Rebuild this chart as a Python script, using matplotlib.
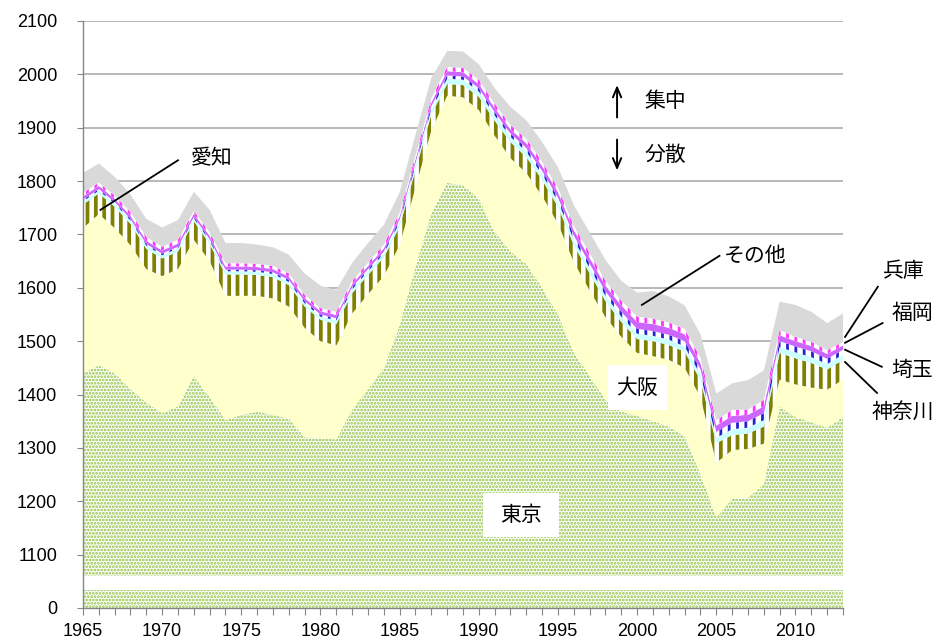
import matplotlib
matplotlib.use("Agg")
import matplotlib.pyplot as plt
from matplotlib.patches import Rectangle
import numpy as np

years = list(range(1965, 2014))

tokyo = [1440, 1455, 1440, 1410, 1385, 1365, 1378, 1435, 1395, 1352,
         1362, 1368, 1362, 1355, 1320, 1318, 1316, 1372, 1410, 1450,
         1530, 1640, 1740, 1797, 1792, 1768, 1705, 1668, 1645, 1600,
         1550, 1478, 1435, 1390, 1368, 1360, 1350, 1340, 1322, 1250,
         1170, 1205, 1207, 1232, 1377, 1358, 1348, 1338, 1358]
osaka = [272, 283, 272, 270, 250, 257, 257, 255, 255, 233,
         223, 217, 218, 210, 205, 182, 176, 180, 178, 172,
         150, 148, 155, 163, 165, 165, 180, 175, 170, 172,
         170, 170, 160, 155, 140, 118, 122, 125, 128, 145,
         102, 91, 91, 76, 51, 61, 65, 71, 70]
aichi = [44, 39, 40, 40, 38, 33, 33, 35, 32, 40,
         40, 39, 40, 40, 40, 40, 40, 38, 36, 35,
         35, 33, 30, 22, 23, 25, 28, 30, 30, 30,
         32, 32, 32, 30, 28, 26, 28, 28, 30, 32,
         37, 28, 29, 32, 50, 49, 46, 38, 37]
kanagawa = [6, 5, 6, 6, 6, 6, 6, 5, 6, 6,
            6, 6, 6, 6, 6, 6, 7, 7, 7, 7,
            8, 8, 9, 10, 10, 10, 10, 10, 10, 10,
            10, 10, 10, 10, 10, 10, 10, 10, 10, 10,
            10, 11, 11, 12, 11, 11, 11, 10, 10]
saitama = [3, 3, 3, 3, 3, 3, 3, 3, 3, 3,
           3, 3, 3, 4, 4, 4, 4, 4, 4, 4,
           5, 5, 6, 6, 6, 6, 6, 6, 7, 7,
           7, 8, 8, 8, 9, 9, 9, 9, 10, 10,
           11, 12, 12, 13, 11, 11, 11, 10, 9]
fukuoka = [6, 6, 6, 6, 6, 6, 6, 6, 6, 6,
           6, 6, 6, 6, 6, 6, 6, 6, 6, 6,
           6, 7, 7, 8, 8, 8, 8, 8, 9, 9,
           10, 10, 11, 11, 12, 13, 13, 13, 13, 12,
           12, 13, 12, 13, 11, 10, 10, 9, 8]
hyogo = [7, 6, 6, 7, 7, 7, 7, 5, 7, 6,
         6, 6, 6, 6, 6, 6, 6, 6, 6, 7,
         7, 7, 8, 8, 8, 8, 8, 8, 8, 8,
         8, 8, 9, 9, 9, 10, 10, 10, 10, 10,
         10, 11, 10, 12, 10, 8, 8, 7, 7]
other = [37, 36, 35, 33, 34, 36, 37, 36, 42, 38,
         38, 36, 35, 35, 40, 42, 41, 34, 37, 37,
         38, 39, 38, 30, 31, 29, 29, 34, 35, 37,
         39, 39, 39, 39, 37, 45, 52, 49, 44, 44,
         50, 50, 55, 55, 53, 60, 56, 51, 53]

y_ticks = [1000, 1100, 1200, 1300, 1400, 1500, 1600, 1700, 1800, 1900, 2000, 2100]
y_labels = ['0', '1100', '1200', '1300', '1400', '1500', '1600', '1700',
            '1800', '1900', '2000', '2100']

# (values, facecolor, hatch, hatch colour, hatch width)
layers = [
    (tokyo, 'white', '.....', '#8FC23E', 1.3),
    (osaka, '#FFFFCC', None, None, 0),
    (aichi, 'white', '||', '#808000', 2.7),
    (kanagawa, '#CCFFFF', None, None, 0),
    (saitama, 'white', '||', '#2222CC', 2.0),
    (fukuoka, '#CC66FF', None, None, 0),
    (hyogo, 'white', '||', '#FF33FF', 2.0),
    (other, '#D9D9D9', None, None, 0),
]

jp = ['Noto Sans CJK JP', 'DejaVu Sans']

fig = plt.figure(figsize=(9.44, 6.42), dpi=100)
ax = fig.add_axes([83 / 944, 34 / 642, 760 / 944, 587 / 642])

x = np.array(years)
base = np.zeros(len(years))
for vals, fc, hatch, hc, hlw in layers:
    top = base + np.array(vals)
    if hatch:
        plt.rcParams['hatch.linewidth'] = hlw
        poly = ax.fill_between(x, base, top, facecolor=fc, edgecolor=hc,
                               hatch=hatch, linewidth=0, zorder=2)
        if hasattr(poly, 'set_hatch_linewidth'):
            poly.set_hatch_linewidth(hlw)
    else:
        ax.fill_between(x, base, top, facecolor=fc, linewidth=0, zorder=2)
    base = top

# axis break
ax.axhspan(1034.5, 1059.5, color='white', zorder=3, linewidth=0)

ax.set_xlim(1965, 2013)
ax.set_ylim(1000, 2100)
ax.set_yticks(y_ticks)
ax.set_yticklabels(y_labels)
ax.set_xticks(years)
ax.set_xticklabels([str(y) if y % 5 == 0 else '' for y in years])
for lab in ax.get_xticklabels() + ax.get_yticklabels():
    lab.set_fontfamily('Liberation Sans')
    lab.set_fontsize(13)
ax.tick_params(axis='x', length=5, color='#868686', pad=6)
ax.tick_params(axis='y', length=4.5, color='#868686', pad=14)

for s in ['top', 'right']:
    ax.spines[s].set_visible(False)
for s in ['left', 'bottom']:
    ax.spines[s].set_color('#868686')
    ax.spines[s].set_linewidth(1.0)
    ax.spines[s].set_zorder(4)

ax.set_axisbelow(True)
ax.yaxis.grid(True, color='#A6A6A6', linewidth=1.1)

# boxes for labels
ax.add_patch(Rectangle((1990.26, 1133), 4.8, 82.4, facecolor='white',
                       edgecolor='none', zorder=5))
ax.text(1992.66, 1175, '東京', fontsize=15, family=jp, ha='center',
        va='center', zorder=6)
ax.add_patch(Rectangle((1998.16, 1371), 3.72, 84.3, facecolor='white',
                       edgecolor='none', zorder=5))
ax.text(2000.0, 1413, '大阪', fontsize=15, family=jp, ha='center',
        va='center', zorder=6)

ax.text(1973.15, 1843, '愛知', fontsize=15, family=jp, ha='center', va='center')
ax.plot([1971.0, 1966.1], [1839, 1746], color='black', lw=1.3, zorder=6)

ax.text(2005.5, 1660, 'その他', fontsize=15, family=jp, ha='left', va='center')
ax.plot([2005.2, 2000.3], [1660, 1568], color='black', lw=1.3, zorder=6)

# concentration arrows
ax.annotate('', xy=(1998.73, 1985), xytext=(1998.73, 1914),
            arrowprops=dict(arrowstyle='->,head_length=0.7,head_width=0.3',
                            lw=1.4, color='black'))
ax.text(2001.76, 1950, '集中', fontsize=15, family=jp, ha='center', va='center')
ax.annotate('', xy=(1998.73, 1815), xytext=(1998.73, 1883),
            arrowprops=dict(arrowstyle='->,head_length=0.7,head_width=0.3',
                            lw=1.4, color='black'))
ax.text(2001.76, 1849, '分散', fontsize=15, family=jp, ha='center', va='center')

# right-hand labels
right_labels = [
    ('兵庫', (2016.85, 1632), (2015.2, 1602), (2013.13, 1508)),
    ('福岡', (2017.36, 1553), (2015.5, 1534), (2013.13, 1497)),
    ('埼玉', (2017.36, 1446), (2015.45, 1452), (2013.13, 1484)),
    ('神奈川', (2016.8, 1368), (2015.15, 1403), (2013.13, 1461)),
]
for name, tpos, p0, p1 in right_labels:
    ax.text(tpos[0], tpos[1], name, fontsize=15, family=jp, ha='center',
            va='center', clip_on=False)
    ax.plot([p0[0], p1[0]], [p0[1], p1[1]], color='black', lw=1.3,
            clip_on=False, zorder=6)

fig.savefig('out.png', dpi=100)
